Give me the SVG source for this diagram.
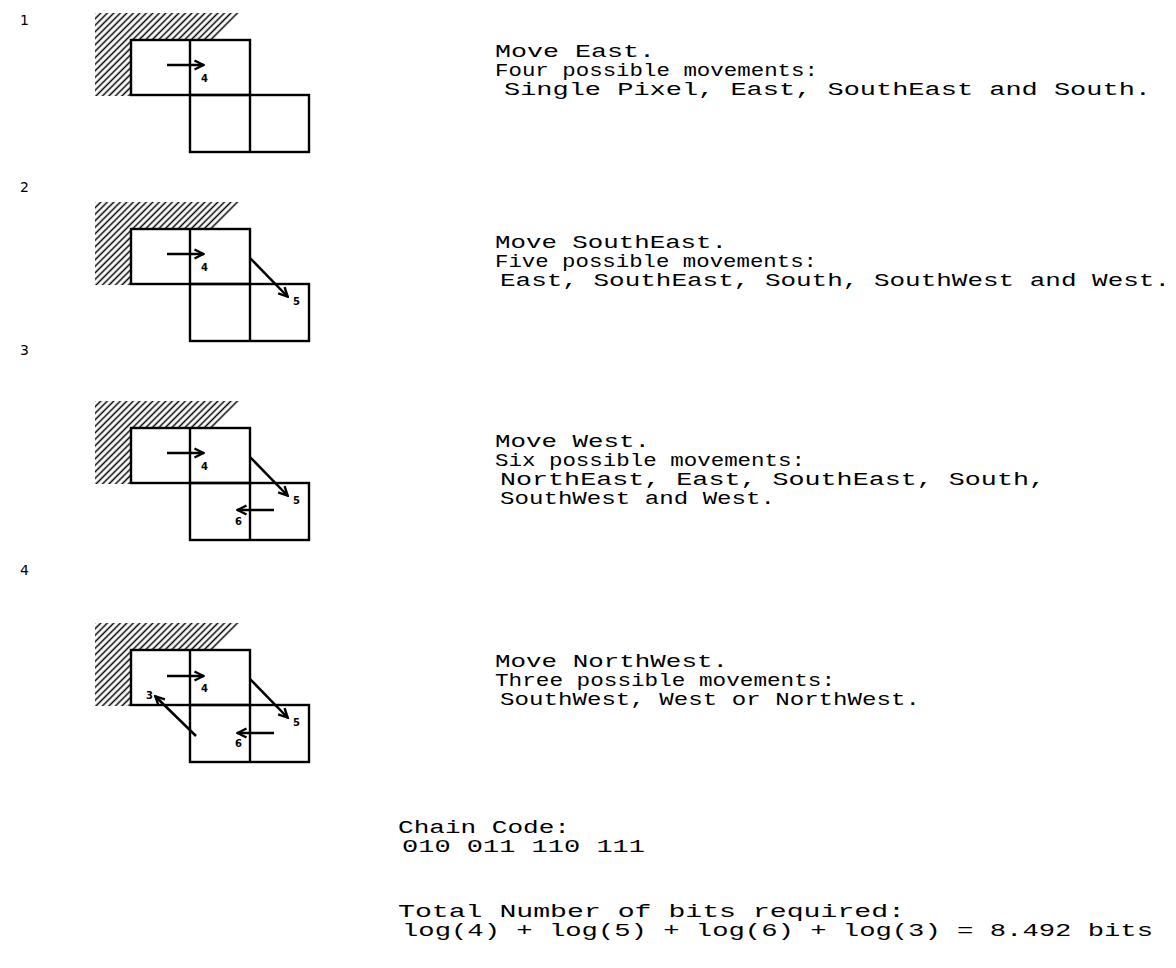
<svg xmlns="http://www.w3.org/2000/svg" width="1176" height="968" viewBox="0 0 1176 968">
<style>
.bg{fill:#fff}
.cell{fill:none;stroke:#000;stroke-width:2.4}
.hatch{fill:url(#hatch);stroke:none}
.arr{fill:none;stroke:#000;stroke-width:2.5;marker-end:url(#head)}
.lbl{font-family:"DejaVu Sans","Liberation Sans",sans-serif;font-size:10px;font-weight:bold;fill:#000}
.num{font-family:"DejaVu Sans","Liberation Sans",sans-serif;font-size:14px;fill:#000}
.txt{font-family:"Liberation Mono","Courier New",monospace;font-size:18.5px;fill:#000}
</style>
<defs>
<pattern id="hatch" patternUnits="userSpaceOnUse" width="4.6" height="4.6" patternTransform="rotate(45)">
<line x1="2.3" y1="0" x2="2.3" y2="4.6" stroke="#000" stroke-width="1.5"/>
</pattern>
<marker id="head" viewBox="0 0 12 12" refX="11" refY="6" markerWidth="12" markerHeight="12" markerUnits="userSpaceOnUse" orient="auto">
<path d="M1.5,1.5 L10.5,6 L1.5,10.5" fill="none" stroke="#000" stroke-width="2.4"/>
</marker>
</defs>
<rect class="bg" x="0" y="0" width="1176" height="968"/>

<g id="panel-numbers">
<text class="num" x="20" y="25">1</text>
<text class="num" x="20" y="192">2</text>
<text class="num" x="20" y="355">3</text>
<text class="num" x="20" y="575">4</text>
</g>

<g id="grid1" transform="translate(0,0)">
<polygon class="hatch" points="95,13 240,13 213,40 131,40 131,96 95,96"/>
<rect class="cell" x="131" y="40" width="119" height="55"/>
<line class="cell" x1="190" y1="40" x2="190" y2="95"/>
<rect class="cell" x="190" y="95" width="119" height="57"/>
<line class="cell" x1="250" y1="95" x2="250" y2="152"/>
<text class="lbl" x="201" y="82">4</text>
</g>

<g id="grid2" transform="translate(0,189)">
<polygon class="hatch" points="95,13 240,13 213,40 131,40 131,96 95,96"/>
<rect class="cell" x="131" y="40" width="119" height="55"/>
<line class="cell" x1="190" y1="40" x2="190" y2="95"/>
<rect class="cell" x="190" y="95" width="119" height="57"/>
<line class="cell" x1="250" y1="95" x2="250" y2="152"/>
<text class="lbl" x="201" y="82">4</text>
<text class="lbl" x="293" y="116">5</text>
</g>

<g id="grid3" transform="translate(0,388)">
<polygon class="hatch" points="95,13 240,13 213,40 131,40 131,96 95,96"/>
<rect class="cell" x="131" y="40" width="119" height="55"/>
<line class="cell" x1="190" y1="40" x2="190" y2="95"/>
<rect class="cell" x="190" y="95" width="119" height="57"/>
<line class="cell" x1="250" y1="95" x2="250" y2="152"/>
<text class="lbl" x="201" y="82">4</text>
<text class="lbl" x="293" y="116">5</text>
<text class="lbl" x="235" y="137">6</text>
</g>

<g id="grid4" transform="translate(0,610)">
<polygon class="hatch" points="95,13 240,13 213,40 131,40 131,96 95,96"/>
<rect class="cell" x="131" y="40" width="119" height="55"/>
<line class="cell" x1="190" y1="40" x2="190" y2="95"/>
<rect class="cell" x="190" y="95" width="119" height="57"/>
<line class="cell" x1="250" y1="95" x2="250" y2="152"/>
<text class="lbl" x="201" y="82">4</text>
<text class="lbl" x="293" y="116">5</text>
<text class="lbl" x="235" y="137">6</text>
<text class="lbl" x="146" y="89">3</text>
</g>

<g id="connectors">
<g transform="translate(0,0)">
<line class="arr" x1="167" y1="65" x2="204" y2="65"/>
</g>
<g transform="translate(0,189)">
<line class="arr" x1="167" y1="65" x2="204" y2="65"/>
<line class="arr" x1="250" y1="69" x2="288" y2="108"/>
</g>
<g transform="translate(0,388)">
<line class="arr" x1="167" y1="65" x2="204" y2="65"/>
<line class="arr" x1="250" y1="69" x2="288" y2="108"/>
<line class="arr" x1="274" y1="122" x2="237" y2="122"/>
</g>
<g transform="translate(0,610)">
<line class="arr" x1="167" y1="66" x2="204" y2="66"/>
<line class="arr" x1="250" y1="69" x2="288" y2="108"/>
<line class="arr" x1="274" y1="123" x2="237" y2="123"/>
<line class="arr" x1="196" y1="126" x2="155" y2="86"/>
</g>
</g>

<g id="text1">
<text class="txt" x="495" y="57" textLength="160" lengthAdjust="spacingAndGlyphs">Move East.</text>
<text class="txt" x="495" y="76" textLength="323" lengthAdjust="spacingAndGlyphs">Four possible movements:</text>
<text class="txt" x="504" y="95" textLength="647" lengthAdjust="spacingAndGlyphs">Single Pixel, East, SouthEast and South.</text>
</g>
<g id="text2">
<text class="txt" x="495" y="248" textLength="232" lengthAdjust="spacingAndGlyphs">Move SouthEast.</text>
<text class="txt" x="495" y="267" textLength="322" lengthAdjust="spacingAndGlyphs">Five possible movements:</text>
<text class="txt" x="500" y="286" textLength="670" lengthAdjust="spacingAndGlyphs">East, SouthEast, South, SouthWest and West.</text>
</g>
<g id="text3">
<text class="txt" x="495" y="447" textLength="155" lengthAdjust="spacingAndGlyphs">Move West.</text>
<text class="txt" x="495" y="466" textLength="310" lengthAdjust="spacingAndGlyphs">Six possible movements:</text>
<text class="txt" x="500" y="485" textLength="545" lengthAdjust="spacingAndGlyphs">NorthEast, East, SouthEast, South,</text>
<text class="txt" x="500" y="504" textLength="275" lengthAdjust="spacingAndGlyphs">SouthWest and West.</text>
</g>
<g id="text4">
<text class="txt" x="495" y="667" textLength="233" lengthAdjust="spacingAndGlyphs">Move NorthWest.</text>
<text class="txt" x="495" y="686" textLength="340" lengthAdjust="spacingAndGlyphs">Three possible movements:</text>
<text class="txt" x="500" y="705" textLength="420" lengthAdjust="spacingAndGlyphs">SouthWest, West or NorthWest.</text>
</g>
<g id="text5">
<text class="txt" x="398" y="833" textLength="172" lengthAdjust="spacingAndGlyphs">Chain Code:</text>
<text class="txt" x="402" y="852" textLength="243" lengthAdjust="spacingAndGlyphs">010 011 110 111</text>
<text class="txt" x="398" y="917" textLength="507" lengthAdjust="spacingAndGlyphs">Total Number of bits required:</text>
<text class="txt" x="402" y="936" textLength="751" lengthAdjust="spacingAndGlyphs">log(4) + log(5) + log(6) + log(3) = 8.492 bits</text>
</g>
</svg>
